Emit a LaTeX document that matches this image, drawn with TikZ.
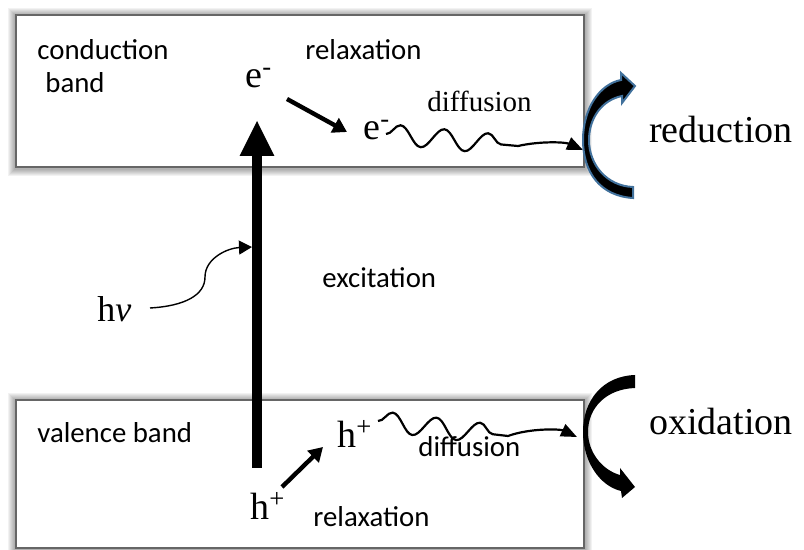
\documentclass[tikz,border=0pt]{standalone}
\usepackage{fontspec}
\setmainfont{Liberation Serif}
\newfontfamily\calibri{Carlito}
\usetikzlibrary{arrows.meta,calc,backgrounds,decorations.pathmorphing}
\definecolor{outlineblue}{RGB}{65,113,156}
\tikzset{
  bandbox/.style={draw=black!60,fill=white,line width=0.6pt,inner sep=0pt},
  glow/.style={fill=black,opacity=0.05},
  sanslabel/.style={font=\calibri\fontsize{14.4}{17}\selectfont,inner sep=0pt,anchor=base west},
  seriflabel/.style={font=\fontsize{14.5}{17}\selectfont,inner sep=0pt,anchor=base west},
  carrier/.style={font=\fontsize{19}{22}\selectfont,inner sep=0pt,anchor=base west},
  reaction/.style={font=\fontsize{19}{22}\selectfont,inner sep=0pt,anchor=base east},
  relaxarrow/.style={line width=2.2pt,-{Triangle[width=8pt,length=7pt]}},
  diffarrow/.style={line width=1.1pt,-{Triangle[width=6.5pt,length=8pt]}},
  wave/.style={decoration={snake,amplitude=5pt,segment length=22pt}}
}

\begin{document}
\begin{tikzpicture}[x=0.5pt,y=-0.5pt]
        \useasboundingbox (0,0) rectangle (804,550);
        % the two bands
        \node[bandbox,minimum width=284pt,minimum height=76pt] (cb) at (300,91) {};
        \node[bandbox,minimum width=284pt,minimum height=74pt] (vb) at (300,474) {};
        \begin{scope}[on background layer]
          \foreach \i in {1,...,7} {
            \fill[glow] ($(cb.south west)+(-\i,\i+1)$) rectangle ($(cb.north east)+(\i,-\i+1)$);
            \fill[glow] ($(vb.south west)+(-\i,\i+1)$) rectangle ($(vb.north east)+(\i,-\i+1)$);
          }
        \end{scope}
        % labels
        \node[sanslabel] (cbname) at (37,60) {conduction};
        \node[sanslabel] (cbname2) at (45,93) {band};
        \node[sanslabel] (relaxtop) at (305,60) {relaxation};
        \node[carrier] (etop) at (245,88) {e\textsuperscript{-}};
        \node[carrier] (ediff) at (363,140) {e\textsuperscript{-}};
        \node[seriflabel] (difftop) at (427,112) {diffusion};
        \node[reaction] (red) at (793,143) {reduction};
        \node[sanslabel] (exc) at (322,288) {excitation};
        \node[carrier,font=\fontsize{18}{20}\selectfont] (hnu) at (97,322) {h\textit{ν}};
        \node[sanslabel] (vbname) at (37,443) {valence band};
        \node[carrier] (hup) at (337,448) {h\textsuperscript{+}};
        \node[carrier] (hlow) at (250,520) {h\textsuperscript{+}};
        \node[sanslabel] (relaxbot) at (313,527) {relaxation};
        \node[sanslabel] (diffbot) at (418,457) {diffusion};
        \node[reaction] (ox) at (793,435) {oxidation};
        % end points
        \coordinate (excfrom) at (257,468);
        \coordinate (excto) at (257,120);
        \coordinate (rt1) at (287,99);
        \coordinate (rt2) at (347,132);
        \coordinate (rb1) at (282,487);
        \coordinate (rb2) at (323,447);
        \coordinate (hnustart) at (150,308);
        \coordinate (hnuend) at (252,247);
        \coordinate (wt1) at (386,134);
        \coordinate (wt2) at (518,146);
        \coordinate (wt3) at (583,150);
        \coordinate (wb1) at (378,421);
        \coordinate (wb2) at (508,436);
        \coordinate (wb3) at (577,437);
        \path
          (excfrom) edge[line width=5pt,-{Triangle[width=16pt,length=18pt]}] (excto)
          (rt1) edge[relaxarrow] (rt2)
          (rb1) edge[relaxarrow] (rb2);
        \draw[line width=0.7pt,-{Triangle[width=7pt,length=6.5pt]}] (hnustart)
          .. controls (185,306) and (205,295) .. (205,277)
          .. controls (205,258) and (228,248) .. (hnuend);
        \draw[diffarrow] (wt1) decorate[wave] {-- (wt2)}
          .. controls (540,141) and (565,142) .. (wt3);
        \draw[diffarrow] (wb1) decorate[wave] {-- (wb2)}
          .. controls (530,428) and (560,429) .. (wb3);
        % curved reaction arrows
        \fill[black,draw=outlineblue,line width=1pt] (633,198)
          .. controls (600,196) and (583,172) .. (583,140)
          .. controls (583,108) and (600,84) .. (621,80)
          -- (621,73) -- (635,86) -- (622,103) -- (622,96)
          .. controls (602,100) and (589,118) .. (589,140)
          .. controls (589,165) and (607,186) .. (633,187) -- cycle;
        \fill[black] (635,375)
          .. controls (603,376) and (583,400) .. (583,432)
          .. controls (583,462) and (600,486) .. (621,491)
          -- (622,498) -- (635,487) -- (620,468) -- (620,475)
          .. controls (602,470) and (588,452) .. (588,432)
          .. controls (588,408) and (606,389) .. (635,388) -- cycle;
      \end{tikzpicture}
\end{document}
